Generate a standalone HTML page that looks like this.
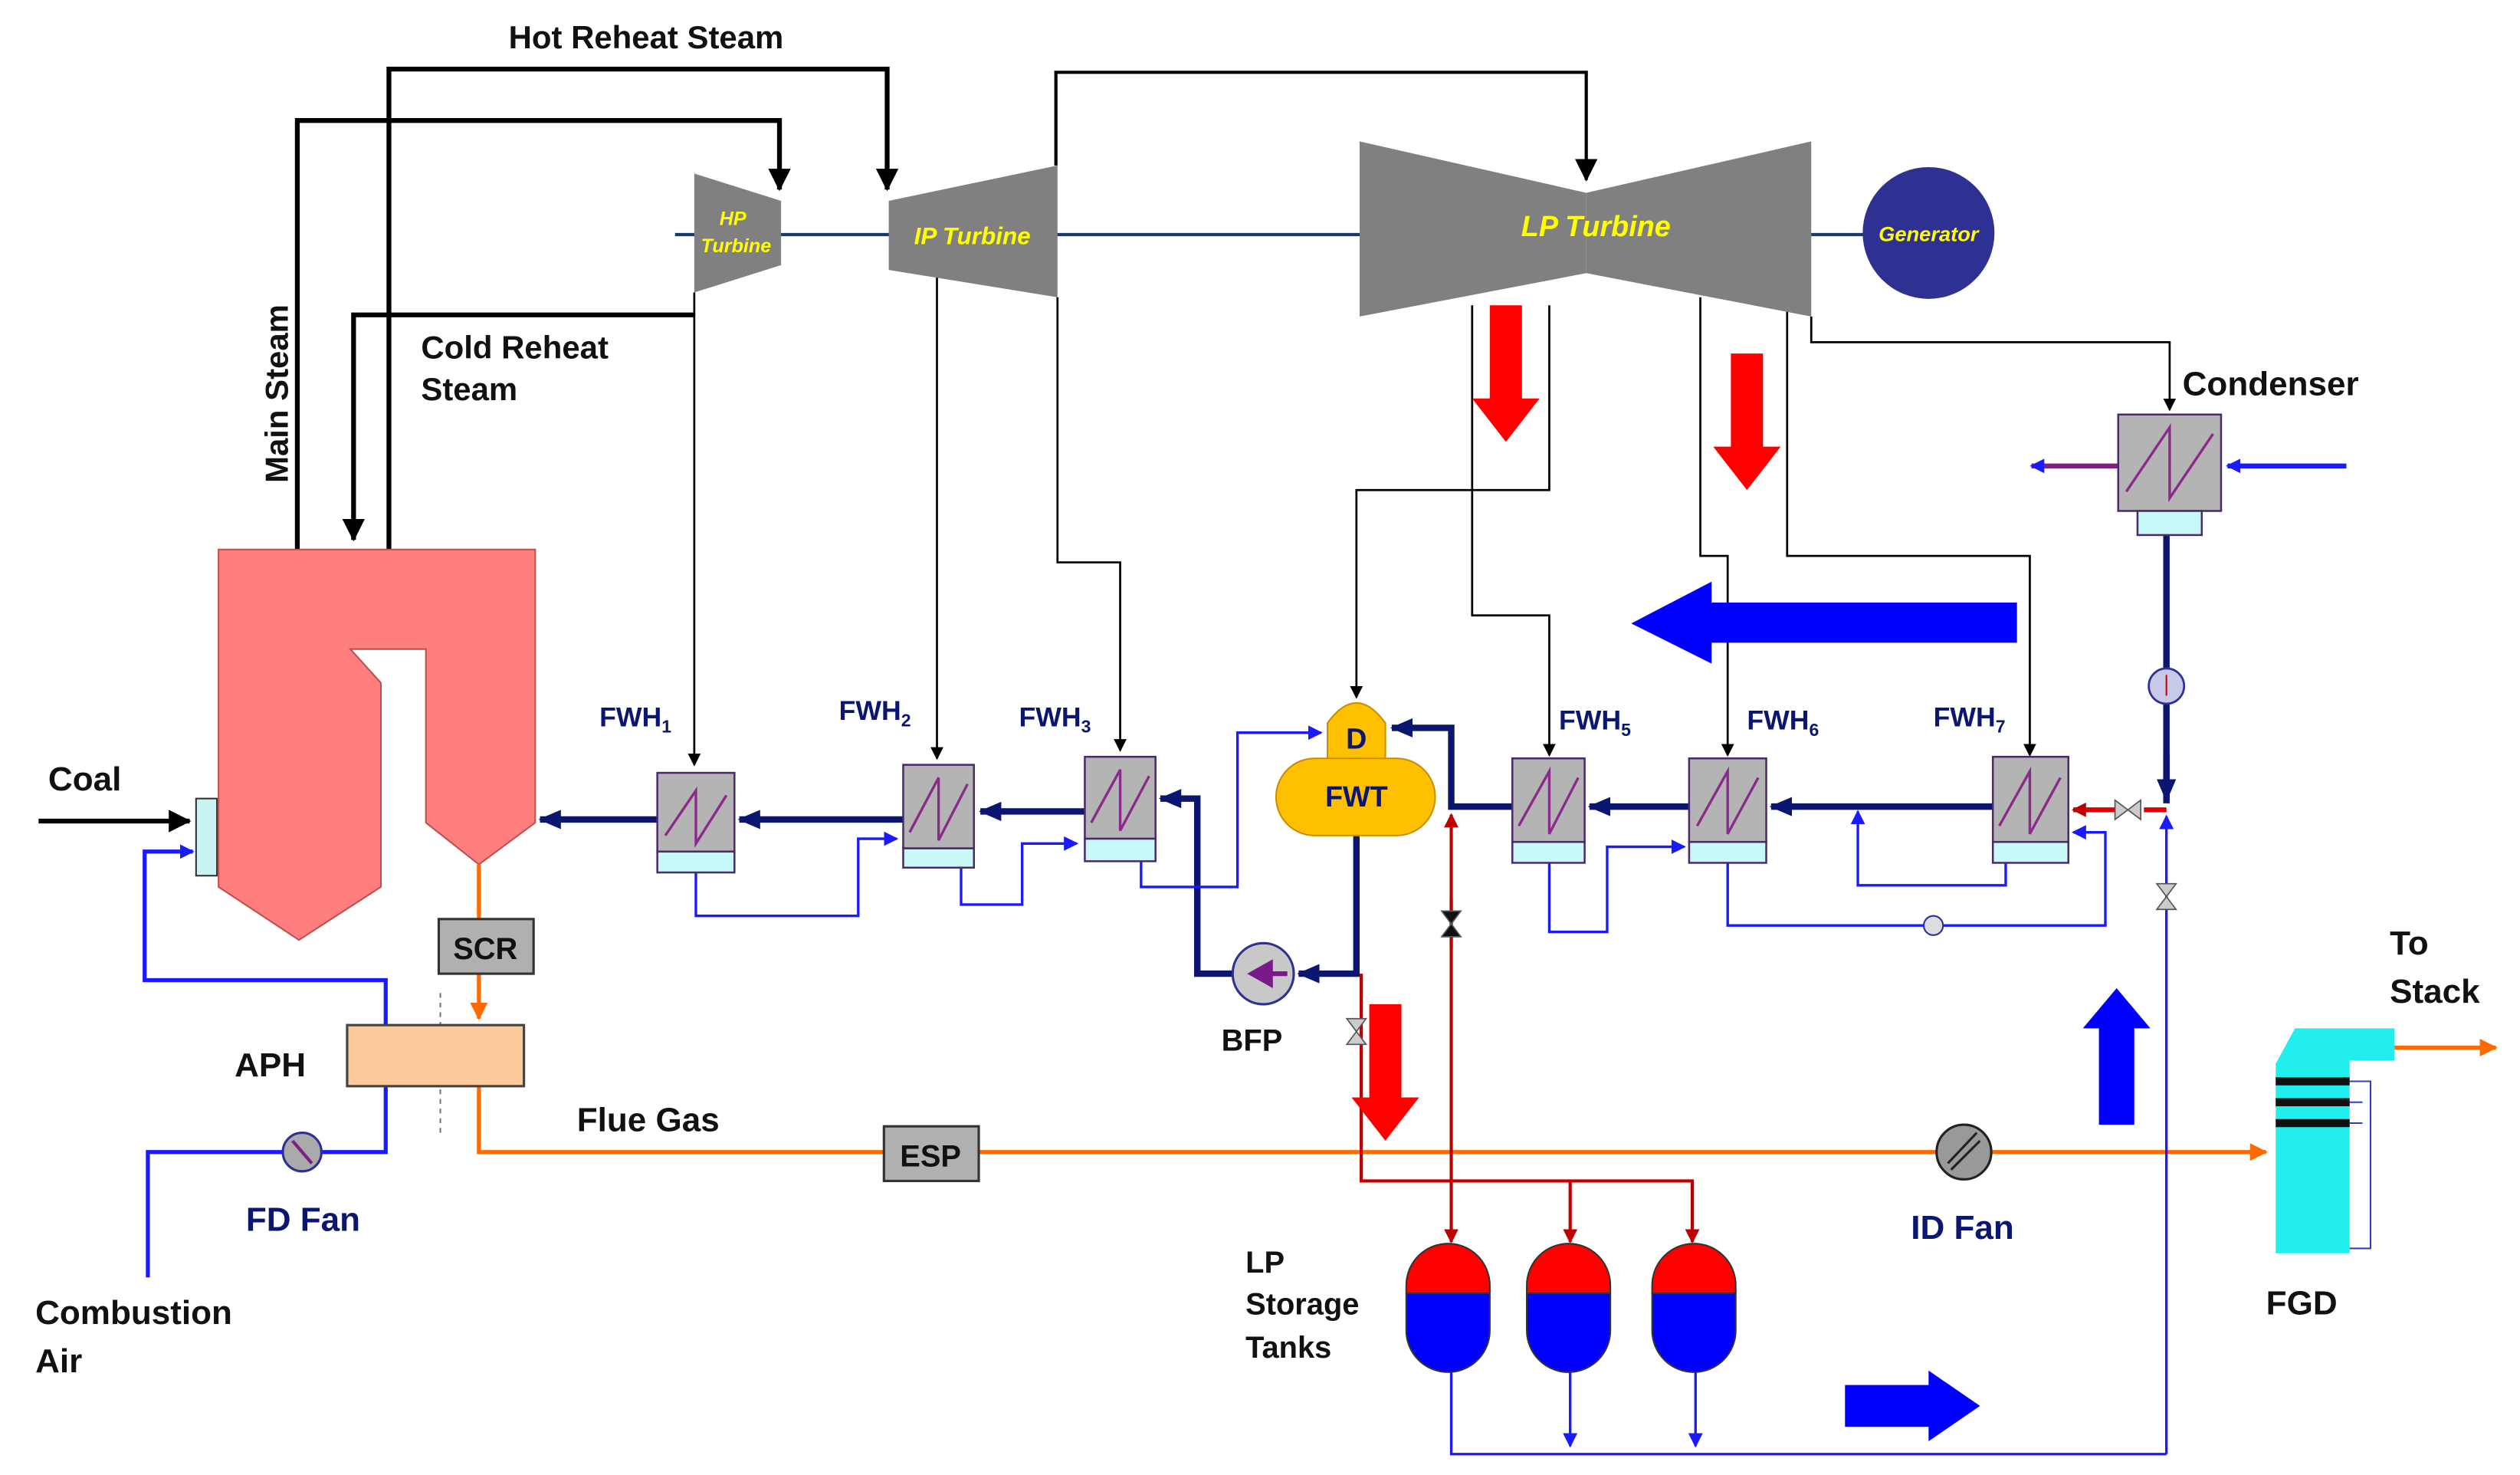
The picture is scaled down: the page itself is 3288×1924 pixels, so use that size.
<!DOCTYPE html>
<html><head><meta charset="utf-8"><style>
html,body{margin:0;padding:0;background:#fff;}
svg{display:block;}
text{font-family:"Liberation Sans",Arial,sans-serif;font-weight:bold;}
</style></head><body>
<svg width="3288" height="1924" viewBox="0 0 1568 918" preserveAspectRatio="none" xmlns="http://www.w3.org/2000/svg">
<defs>
<marker id="ak" markerWidth="8" markerHeight="8" refX="7" refY="4" orient="auto" markerUnits="userSpaceOnUse"><path d="M0,0 L8,4 L0,8 z" fill="#000"/></marker>
<marker id="akb" markerWidth="14" markerHeight="14" refX="13" refY="7" orient="auto" markerUnits="userSpaceOnUse"><path d="M0,0 L14,7 L0,14 z" fill="#000"/></marker>
<marker id="an" markerWidth="14" markerHeight="12" refX="13" refY="6" orient="auto" markerUnits="userSpaceOnUse"><path d="M0,0 L14,6 L0,12 z" fill="#0a1670"/></marker>
<marker id="ab" markerWidth="9" markerHeight="9" refX="8" refY="4.5" orient="auto" markerUnits="userSpaceOnUse"><path d="M0,0 L9,4.5 L0,9 z" fill="#1a1aff"/></marker>
<marker id="ar" markerWidth="9" markerHeight="9" refX="8" refY="4.5" orient="auto" markerUnits="userSpaceOnUse"><path d="M0,0 L9,4.5 L0,9 z" fill="#c00000"/></marker>
<marker id="ao" markerWidth="11" markerHeight="11" refX="10" refY="5.5" orient="auto" markerUnits="userSpaceOnUse"><path d="M0,0 L11,5.5 L0,11 z" fill="#ff6a00"/></marker>
</defs>

<g fill="none" stroke="#000" stroke-width="3">
<polyline points="185,342 185,75 485,75 485,118" marker-end="url(#akb)"/>
<polyline points="242,342 242,43 552,43 552,118" marker-end="url(#akb)"/>
<polyline points="432,196 220,196 220,336" marker-end="url(#akb)"/>
</g>
<g fill="none" stroke="#000" stroke-width="2">
<polyline points="657,103 657,45 987,45 987,112" marker-end="url(#akb)"/>
</g>
<g fill="none" stroke="#000" stroke-width="1.3">
<polyline points="432,182 432,476" marker-end="url(#ak)"/>
<polyline points="583,170 583,472" marker-end="url(#ak)"/>
<polyline points="658,185 658,350 697,350 697,467" marker-end="url(#ak)"/>
<polyline points="964,190 964,305 844,305 844,434" marker-end="url(#ak)"/>
<polyline points="916,190 916,383 964,383 964,470" marker-end="url(#ak)"/>
<polyline points="1058,185 1058,346 1075,346 1075,470" marker-end="url(#ak)"/>
<polyline points="1112,190 1112,346 1263,346 1263,470" marker-end="url(#ak)"/>
<polyline points="1127,197 1127,213 1350,213 1350,255" marker-end="url(#ak)"/>
</g>

<line x1="420" y1="146" x2="1165" y2="146" stroke="#1a3a6a" stroke-width="2"/>
<polygon points="432,108 486,125 486,165 432,182" fill="#808080"/>
<polygon points="553,125 658,103 658,185 553,168" fill="#808080"/>
<polygon points="846,88 987,120 987,170 846,197" fill="#808080"/>
<polygon points="987,120 1127,88 1127,197 987,170" fill="#808080"/>
<circle cx="1200" cy="145" r="41" fill="#2e3192"/>
<g fill="#ffff00" font-style="italic">
<text x="456" y="140" font-size="12" text-anchor="middle">HP</text>
<text x="458" y="157" font-size="12" text-anchor="middle">Turbine</text>
<text x="605" y="152" font-size="15" text-anchor="middle">IP Turbine</text>
<text x="993" y="147" font-size="18" text-anchor="middle">LP Turbine</text>
<text x="1200" y="150" font-size="13" text-anchor="middle">Generator</text>
</g>

<polygon points="136,342 333,342 333,512 298,538 265,512 265,404 218,404 237,425 237,552 186,585 136,552" fill="#ff7f7f" stroke="#c05050" stroke-width="1"/>
<rect x="122" y="497" width="13" height="48" fill="#c8f4f4" stroke="#333" stroke-width="1"/>
<line x1="24" y1="511" x2="118" y2="511" stroke="#000" stroke-width="3" marker-end="url(#akb)"/>

<g fill="none" stroke="#1a1aff" stroke-width="2.5">
<polyline points="92,795 92,717 240,717 240,640" marker-end="url(#ab)"/>
<polyline points="240,638 240,610 90,610 90,530 120,530" marker-end="url(#ab)"/>
</g>
<circle cx="188" cy="717" r="12" fill="#aaa" stroke="#2e3192" stroke-width="1.5"/>
<path d="M182,710 L194,724" stroke="#802080" stroke-width="2"/>

<g fill="none" stroke="#ff6a00" stroke-width="2.5">
<polyline points="298,538 298,572"/>
<polyline points="298,606 298,634" marker-end="url(#ao)"/>
<polyline points="298,676 298,717 1410,717" marker-end="url(#ao)"/>
<polyline points="1490,652 1553,652" marker-end="url(#ao)"/>
</g>
<line x1="274" y1="618" x2="274" y2="708" stroke="#777" stroke-width="1" stroke-dasharray="3,3"/>
<rect x="273" y="572" width="59" height="34" fill="#b0b0b0" stroke="#333" stroke-width="1.5"/>
<text x="302" y="597" font-size="19" text-anchor="middle" fill="#111">SCR</text>
<rect x="216" y="638" width="110" height="38" fill="#fcc99a" stroke="#444" stroke-width="1.5"/>
<rect x="550" y="701" width="59" height="34" fill="#b0b0b0" stroke="#333" stroke-width="1.5"/>
<text x="579" y="726" font-size="19" text-anchor="middle" fill="#111">ESP</text>
<circle cx="1222" cy="717" r="17" fill="#999" stroke="#222" stroke-width="1.5"/>
<path d="M1212,724 L1230,705 M1214,728 L1232,710" stroke="#222" stroke-width="1.5"/>
<polygon points="1428,640 1490,640 1490,660 1462,660 1462,780 1416,780 1416,662" fill="#22eeee"/>
<g stroke="#111" stroke-width="5"><line x1="1416" y1="673" x2="1462" y2="673"/><line x1="1416" y1="686" x2="1462" y2="686"/><line x1="1416" y1="699" x2="1462" y2="699"/></g>
<polyline points="1462,673 1475,673 1475,777 1462,777" fill="none" stroke="#3040c0" stroke-width="1"/>
<path d="M1462,686 L1470,686 M1462,699 L1470,699" fill="none" stroke="#3040c0" stroke-width="1"/>

<g fill="none" stroke="#0a1670" stroke-width="4">
<polyline points="1240,502 1102,502" marker-end="url(#an)"/>
<polyline points="1051,502 989,502" marker-end="url(#an)"/>
<polyline points="941,502 903,502 903,453 866,453" marker-end="url(#an)"/>
<polyline points="844,520 844,606 808,606" marker-end="url(#an)"/>
<polyline points="767,606 745,606 745,497 722,497" marker-end="url(#an)"/>
<polyline points="675,505 610,505" marker-end="url(#an)"/>
<polyline points="562,510 460,510" marker-end="url(#an)"/>
<polyline points="409,510 336,510" marker-end="url(#an)"/>
<polyline points="1348,333 1348,500"/>
<polyline points="1348,470 1348,498" marker-end="url(#an)"/>
</g>
<line x1="1322" y1="504" x2="1290" y2="504" stroke="#e00000" stroke-width="3" marker-end="url(#ar)"/>
<line x1="1348" y1="504" x2="1334" y2="504" stroke="#e00000" stroke-width="3"/>

<g fill="none" stroke="#1a1aff" stroke-width="1.6">
<polyline points="433,543 433,570 534,570 534,522 558,522" marker-end="url(#ab)"/>
<polyline points="598,540 598,563 636,563 636,525 670,525" marker-end="url(#ab)"/>
<polyline points="710,536 710,552 770,552 770,456 822,456" marker-end="url(#ab)"/>
<polyline points="964,537 964,580 1000,580 1000,527 1048,527" marker-end="url(#ab)"/>
<polyline points="1075,537 1075,576 1310,576 1310,518 1290,518" marker-end="url(#ab)"/>
<polyline points="1248,537 1248,551 1156,551 1156,505" marker-end="url(#ab)"/>
<polyline points="1348,905 903,905 903,850"/>
<polyline points="977,850 977,900" marker-end="url(#ab)"/>
<polyline points="1055,850 1055,900" marker-end="url(#ab)"/>
<polyline points="1348,905 1348,508" marker-end="url(#ab)"/>
</g>
<polyline points="1460,290 1386,290" stroke="#1a1aff" stroke-width="3" fill="none" marker-end="url(#ab)"/>
<line x1="1318" y1="290" x2="1264" y2="290" stroke="#802080" stroke-width="3" marker-end="url(#ab)"/>
<circle cx="1203" cy="576" r="6" fill="#ddd" stroke="#2e3192" stroke-width="1"/>

<g fill="none" stroke="#c00000" stroke-width="2">
<polyline points="847,606 847,735 1053,735 1053,773" marker-end="url(#ar)"/>
<polyline points="977,735 977,773" marker-end="url(#ar)"/>
<polyline points="903,560 903,773" marker-end="url(#ar)"/>
<polyline points="903,590 903,507" marker-end="url(#ar)"/>
</g>
<g stroke="#555" stroke-width="0.8">
<polygon points="838,634 850,634 844,642" fill="#ccc"/><polygon points="838,650 850,650 844,642" fill="#ccc"/>
<polygon points="897,567 909,567 903,575" fill="#111"/><polygon points="897,583 909,583 903,575" fill="#111"/>
<polygon points="1342,550 1354,550 1348,558" fill="#ccc"/><polygon points="1342,566 1354,566 1348,558" fill="#ccc"/>
<polygon points="1316,498 1316,510 1324,504" fill="#ccc"/><polygon points="1332,498 1332,510 1324,504" fill="#ccc"/>
</g>

<g stroke="#4a2a6a" stroke-width="1.2">
<rect x="409" y="481" width="48" height="49" fill="#b4b4b4"/><rect x="409" y="530" width="48" height="13" fill="#c8f8f8"/>
<rect x="562" y="476" width="44" height="52" fill="#b4b4b4"/><rect x="562" y="528" width="44" height="12" fill="#c8f8f8"/>
<rect x="675" y="471" width="44" height="51" fill="#b4b4b4"/><rect x="675" y="522" width="44" height="14" fill="#c8f8f8"/>
<rect x="941" y="472" width="45" height="52" fill="#b4b4b4"/><rect x="941" y="524" width="45" height="13" fill="#c8f8f8"/>
<rect x="1051" y="472" width="48" height="52" fill="#b4b4b4"/><rect x="1051" y="524" width="48" height="13" fill="#c8f8f8"/>
<rect x="1240" y="471" width="47" height="53" fill="#b4b4b4"/><rect x="1240" y="524" width="47" height="13" fill="#c8f8f8"/>
<rect x="1318" y="258" width="64" height="60" fill="#b4b4b4"/><rect x="1330" y="318" width="40" height="15" fill="#c8f8f8"/>
</g>
<g fill="none" stroke="#8a2a8a" stroke-width="1.6">
<polyline points="414,520 433,492 433,525 452,495"/>
<polyline points="566,518 584,484 584,523 602,488"/>
<polyline points="679,512 697,479 697,517 715,483"/>
<polyline points="945,514 964,480 964,519 982,484"/>
<polyline points="1056,514 1075,480 1075,519 1094,484"/>
<polyline points="1244,514 1263,480 1263,519 1282,484"/>
<polyline points="1323,306 1350,266 1350,310 1377,270"/>
</g>

<path d="M826,475 L826,450 Q844,425 862,450 L862,475 Z" fill="#ffc000" stroke="#c89000" stroke-width="1"/>
<rect x="794" y="472" width="99" height="48" rx="24" fill="#ffc000" stroke="#c89000" stroke-width="1"/>
<text x="844" y="466" font-size="18" text-anchor="middle" fill="#0a1670">D</text>
<text x="844" y="502" font-size="18" text-anchor="middle" fill="#0a1670">FWT</text>
<circle cx="786" cy="606" r="19" fill="#c8c8c8" stroke="#2e3192" stroke-width="1.5"/>
<polygon points="776,606 792,597 792,615" fill="#7a1a8a"/>
<line x1="790" y1="606" x2="801" y2="606" stroke="#7a1a8a" stroke-width="3"/>
<circle cx="1348" cy="427" r="11" fill="#c8c8e8" stroke="#2e3192" stroke-width="1.3"/>
<line x1="1348" y1="420" x2="1348" y2="433" stroke="#c00" stroke-width="1"/>

<g stroke="#333" stroke-width="1">
<path d="M875,805 L875,800 A26,26 0 0 1 927,800 L927,805 Z" fill="#ff0000"/>
<path d="M875,805 L927,805 L927,828 A26,26 0 0 1 875,828 Z" fill="#0000ff"/>
<path d="M950,805 L950,800 A26,26 0 0 1 1002,800 L1002,805 Z" fill="#ff0000"/>
<path d="M950,805 L1002,805 L1002,828 A26,26 0 0 1 950,828 Z" fill="#0000ff"/>
<path d="M1028,805 L1028,800 A26,26 0 0 1 1080,800 L1080,805 Z" fill="#ff0000"/>
<path d="M1028,805 L1080,805 L1080,828 A26,26 0 0 1 1028,828 Z" fill="#0000ff"/>
</g>

<g fill="#ff0000">
<polygon points="927,190 947,190 947,248 958,248 937,275 916,248 927,248"/>
<polygon points="1077,220 1097,220 1097,278 1108,278 1087,305 1066,278 1077,278"/>
<polygon points="852,625 872,625 872,683 883,683 862,710 841,683 852,683"/>
</g>
<g fill="#0000ff">
<polygon points="1255,375 1255,400 1065,400 1065,413 1015,388 1065,362 1065,375"/>
<polygon points="1306,700 1328,700 1328,640 1338,640 1317,615 1296,640 1306,640"/>
<polygon points="1148,862 1200,862 1200,853 1232,875 1200,897 1200,888 1148,888"/>
</g>

<g fill="#111">
<text x="402" y="30" font-size="20" text-anchor="middle">Hot Reheat Steam</text>
<text x="262" y="223" font-size="20">Cold Reheat</text>
<text x="262" y="249" font-size="20">Steam</text>
<text x="179" y="245" font-size="20" text-anchor="middle" transform="rotate(-90 179 245)">Main Steam</text>
<text x="30" y="492" font-size="21">Coal</text>
<text x="146" y="670" font-size="21">APH</text>
<text x="359" y="704" font-size="21">Flue Gas</text>
<text x="22" y="824" font-size="21">Combustion</text>
<text x="22" y="854" font-size="21">Air</text>
<text x="760" y="654" font-size="19">BFP</text>
<text x="775" y="792" font-size="19">LP</text>
<text x="775" y="818" font-size="19">Storage</text>
<text x="775" y="845" font-size="19">Tanks</text>
<text x="1358" y="246" font-size="21">Condenser</text>
<text x="1487" y="594" font-size="21">To</text>
<text x="1487" y="624" font-size="21">Stack</text>
<text x="1410" y="818" font-size="21">FGD</text>
</g>
<g fill="#0a1670">
<text x="153" y="766" font-size="21">FD Fan</text>
<text x="1189" y="771" font-size="21">ID Fan</text>
<text x="373" y="452" font-size="17">FWH<tspan font-size="11" dy="4">1</tspan></text>
<text x="522" y="448" font-size="17">FWH<tspan font-size="11" dy="4">2</tspan></text>
<text x="634" y="452" font-size="17">FWH<tspan font-size="11" dy="4">3</tspan></text>
<text x="970" y="454" font-size="17">FWH<tspan font-size="11" dy="4">5</tspan></text>
<text x="1087" y="454" font-size="17">FWH<tspan font-size="11" dy="4">6</tspan></text>
<text x="1203" y="452" font-size="17">FWH<tspan font-size="11" dy="4">7</tspan></text>
</g>
</svg>
</body></html>
